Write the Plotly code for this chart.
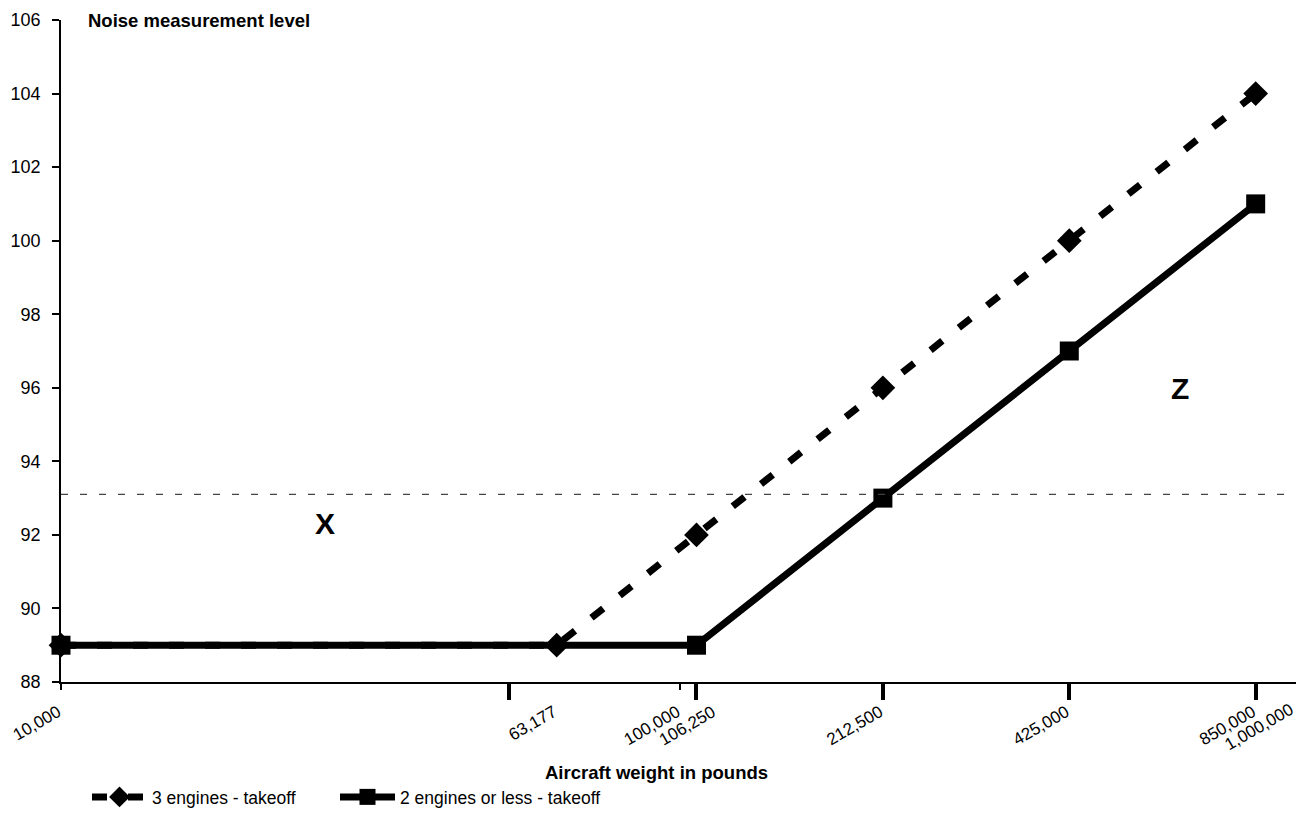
import plotly.graph_objects as go

# ---- data ----
weights_3eng = [10000, 63177, 106250, 212500, 425000, 850000]
noise_3eng = [89, 89, 92, 96, 100, 104]

weights_2eng = [10000, 106250, 212500, 425000, 850000]
noise_2eng = [89, 89, 93, 97, 101]

label_vals = [10000, 63177, 100000, 212500, 425000, 850000]
label_text = ["10,000", "63,177", "100,000", "212,500", "425,000", "850,000"]
end_label_vals = [1000000]
end_label_text = ["1,000,000"]
thick_tick_vals = [53000, 106250, 212500, 425000, 850000]   # long tick marks as drawn in the reference
thick_tick_text = ["", "106,250", "", "", ""]
thin_tick_vals = [10000, 100000, 1000000]
y_tick_vals = list(range(88, 107, 2))
threshold_level = 93.1

FONT = "Liberation Sans, Arial, sans-serif"
XRANGE_LOG = [4, 6.001]
XRANGE_VAL = [10 ** XRANGE_LOG[0], 10 ** XRANGE_LOG[1]]

# the page body adds an 8px offset; margins compensate so the plot sits where the reference has it
OFF = 8
FIG_W, FIG_H = 1304, 819
PLOT_L, PLOT_R, PLOT_T, PLOT_B = 61, 1300, 20, 682   # target positions in the window
PW, PH = PLOT_R - PLOT_L, PLOT_B - PLOT_T


def px(xpix):
    return (xpix - PLOT_L) / PW


def py(ypix):
    return (PLOT_B - ypix) / PH


fig = go.Figure()

fig.add_trace(go.Scatter(
    x=weights_3eng, y=noise_3eng, name="3 engines - takeoff",
    mode="lines+markers", xaxis="x", yaxis="y", legend="legend",
    line=dict(color="black", width=7, dash="15px,21px"),
    marker=dict(symbol="diamond", size=19, color="black"),
    cliponaxis=False,
))
fig.add_trace(go.Scatter(
    x=weights_2eng, y=noise_2eng, name="2 engines or less - takeoff",
    mode="lines+markers", xaxis="x2", yaxis="y", legend="legend2",
    line=dict(color="black", width=7),
    marker=dict(symbol="square", size=19, color="black"),
    cliponaxis=False,
))
# horizontal threshold level across the whole axis range
fig.add_trace(go.Scatter(
    x=XRANGE_VAL, y=[threshold_level, threshold_level], mode="lines",
    xaxis="x3", yaxis="y", showlegend=False, hoverinfo="skip",
    line=dict(color="#444444", width=1.3, dash="7px,12px"),
))

common_x = dict(type="log", range=XRANGE_LOG, showgrid=False, zeroline=False, automargin=False,
                tickangle=-30, ticklabeloverflow="allow",
                tickfont=dict(family=FONT, size=17, color="black"))

legend_common = dict(orientation="h", xanchor="left", y=py(797), yanchor="middle",
                     font=dict(family=FONT, size=17.5, color="black"), itemwidth=55,
                     bgcolor="rgba(0,0,0,0)")

fig.update_layout(
    width=FIG_W, height=FIG_H,
    margin=dict(l=PLOT_L - OFF, r=FIG_W - (PLOT_R - OFF), t=PLOT_T - OFF,
                b=FIG_H - (PLOT_B - OFF)),
    paper_bgcolor="white", plot_bgcolor="white",
    font=dict(family=FONT, color="black"),
    showlegend=True,
    xaxis=dict(**common_x, tickmode="array", tickvals=label_vals, ticktext=label_text,
               ticks="", showline=True, linecolor="black", linewidth=1.5,
               ticklabelstandoff=12, ticklabelshift=-3,
               minor=dict(tickmode="array", tickvals=thin_tick_vals, ticks="outside",
                          ticklen=6, tickwidth=1.5, tickcolor="black", showgrid=False)),
    xaxis2=dict(**common_x, overlaying="x", anchor="y", side="bottom",
                tickmode="array", tickvals=thick_tick_vals, ticktext=thick_tick_text,
                showticklabels=True, ticklabelstandoff=-4, ticklabelshift=16,
                ticks="outside", ticklen=17, tickwidth=4, tickcolor="black", showline=False),
    xaxis3=dict(**common_x, overlaying="x", anchor="y", side="bottom",
                tickmode="array", tickvals=end_label_vals, ticktext=end_label_text,
                ticks="", showline=False, ticklabelstandoff=14, ticklabelshift=-9),
    yaxis=dict(range=[88, 106], tickmode="array", tickvals=y_tick_vals, automargin=False,
               showgrid=False, zeroline=False, showline=True, linecolor="black", linewidth=1.5,
               ticks="outside", ticklen=7, tickwidth=1.5, tickcolor="black",
               ticklabelstandoff=8,
               tickfont=dict(family=FONT, size=18, color="black")),
    legend=dict(**legend_common, x=px(87)),
    legend2=dict(**legend_common, x=px(335)),
    annotations=[
        dict(text="<b>Noise measurement level</b>", xref="paper", yref="paper",
             x=px(86), y=py(20), xanchor="left", yanchor="middle", showarrow=False,
             font=dict(family=FONT, size=18.5, color="black")),
        dict(text="<b>Aircraft weight in pounds</b>", xref="paper", yref="paper",
             x=px(656), y=py(773), xanchor="center", yanchor="middle",
             showarrow=False, font=dict(family=FONT, size=18.5, color="black")),
        dict(text="<b>X</b>", xref="paper", yref="paper",
             x=px(325), y=py(523), xanchor="center", yanchor="middle",
             showarrow=False, font=dict(family=FONT, size=30, color="black")),
        dict(text="<b>Z</b>", xref="paper", yref="paper",
             x=px(1180), y=py(388), xanchor="center", yanchor="middle",
             showarrow=False, font=dict(family=FONT, size=30, color="black")),
    ],
)

fig.write_html("out.html")
